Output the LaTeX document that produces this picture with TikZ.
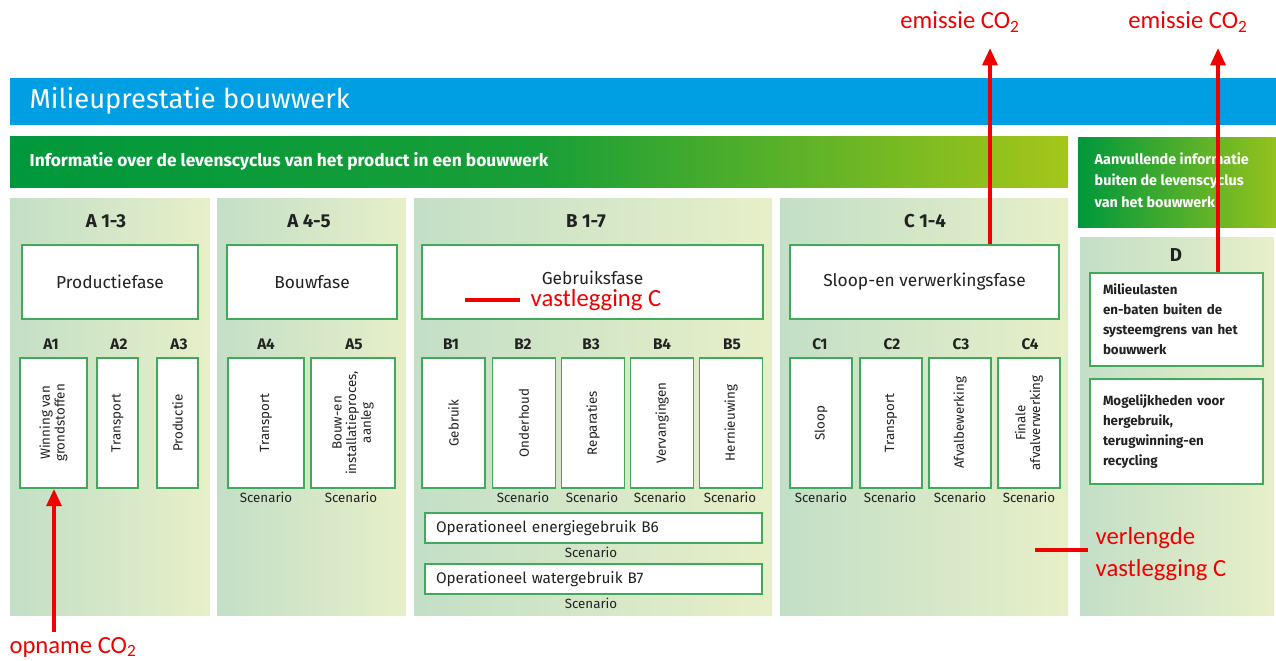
\documentclass[tikz,border=0pt]{standalone}
\usepackage{fontspec}
\setmainfont{Fira Sans}
\newfontfamily\redfont{Carlito}
\usetikzlibrary{arrows.meta}
\definecolor{barblue}{HTML}{009FE3}
\definecolor{darkgrn}{HTML}{00983C}
\definecolor{limegrn}{HTML}{A5C619}
\definecolor{panelleft}{HTML}{C3DFC7}
\definecolor{panelright}{HTML}{E7EFC8}
\definecolor{boxgreen}{HTML}{3FAA59}
\definecolor{co2red}{HTML}{F00000}
\definecolor{txtgray}{HTML}{222222}

\begin{document}
\begin{tikzpicture}[x=0.75pt,y=-0.75pt,
  panel/.style={left color=panelleft, right color=panelright},
  phasebox/.style={draw=boxgreen, line width=1.2pt, fill=white, text=txtgray, font=\fontsize{13}{15}\selectfont},
  modbox/.style={draw=boxgreen, line width=1.2pt, fill=white, minimum height=97.5pt},
  modtext/.style={rotate=90, align=center, text=txtgray, font=\fontsize{10}{11}\selectfont},
  modlabel/.style={text=txtgray, font=\bfseries\fontsize{11.5}{13}\selectfont},
  header/.style={text=txtgray, font=\bfseries\fontsize{14}{16}\selectfont},
  scen/.style={text=txtgray, font=\fontsize{10}{11}\selectfont},
  dtext/.style={draw=boxgreen, line width=1.2pt, fill=white, text=txtgray, align=left, inner xsep=9.75pt,
    text width=110.25pt, font=\bfseries\fontsize{10}{15}\selectfont},
  co2arrow/.style={draw=co2red, line width=3pt, -{Triangle[width=11pt,length=13pt]}},
  co2line/.style={draw=co2red, line width=3pt},
  co2text/.style={text=co2red, font=\redfont\fontsize{18.5}{24}\selectfont}
]
\useasboundingbox (0,0) rectangle (1276,660);

% bars
\fill [barblue] (10,78) rectangle (1276,125);
\node [anchor=west, text=white, font=\fontsize{20.5}{23}\selectfont] (title) at (25,101) {Milieuprestatie bouwwerk};
\shade [left color=darkgrn, right color=limegrn, middle color=darkgrn!85!limegrn] (10,136) rectangle (1068,187);
\node [anchor=west, text=white, font=\bfseries\fontsize{13}{15}\selectfont] (info) at (25,161) {Informatie over de levenscyclus van het product in een bouwwerk};
\shade [left color=darkgrn, right color=limegrn!90!darkgrn] (1078,137) rectangle (1276,227);
\node [anchor=west, text=white, align=left, font=\bfseries\fontsize{10.8}{16}\selectfont] (extra) at (1090,180) {Aanvullende informatie\\buiten de levenscyclus\\van het bouwwerk};

% panels
\shade [panel] (10,198) rectangle (210,615);
\shade [panel] (217,198) rectangle (406,615);
\shade [panel] (414,198) rectangle (772,615);
\shade [panel] (780,198) rectangle (1068,615);
\shade [panel] (1080,237) rectangle (1274,615);

\node [header] (ha) at (106,221) {A 1-3};
\node [header] (hab) at (309,221) {A 4-5};
\node [header] (hb) at (586,221) {B 1-7};
\node [header] (hc) at (925,221) {C 1-4};
\node [header] (hd) at (1176,255) {D};

% phases
\node [phasebox, minimum width=132pt, minimum height=55.5pt] (prod) at (110,282) {Productiefase};
\node [phasebox, minimum width=127.5pt, minimum height=55.5pt] (bouw) at (312,282) {Bouwfase};
\node [phasebox, minimum width=255.75pt, minimum height=55.5pt, text depth=6pt] (gebr) at (592.5,282) {Gebruiksfase};
\node [phasebox, minimum width=201.75pt, minimum height=55.5pt] (sloop) at (924.5,282) {Sloop-en verwerkingsfase};

% modules A
\node [modbox, minimum width=50.25pt] (a1) at (53.5,423) {};
\node [modbox, minimum width=30.75pt] (a2) at (117.5,423) {};
\node [modbox, minimum width=30.75pt] (a3) at (177.5,423) {};
\node [modbox, minimum width=57pt] (a4) at (266,423) {};
\node [modbox, minimum width=63pt] (a5) at (353,423) {};
\node [modtext] at (a1) {Winning van\\grondstoffen};
\node [modtext] at (a2) {Transport};
\node [modtext] at (a3) {Productie};
\node [modtext] at (a4) {Transport};
\node [modtext] at (a5) {Bouw-en\\installatieproces,\\aanleg};
\node [modlabel] at (51,344) {A1};
\node [modlabel] at (119,344) {A2};
\node [modlabel] at (179,344) {A3};
\node [modlabel] at (266,344) {A4};
\node [modlabel] at (354,344) {A5};
\node [scen] at (266,497) {Scenario};
\node [scen] at (351,497) {Scenario};

% modules B
\node [modbox, minimum width=47.25pt] (b1) at (453.5,423) {};
\node [modbox, minimum width=47.25pt] (b2) at (524,423) {};
\node [modbox, minimum width=47.25pt] (b3) at (593,423) {};
\node [modbox, minimum width=47.25pt] (b4) at (662,423) {};
\node [modbox, minimum width=47.25pt] (b5) at (731,423) {};
\node [modtext] at (b1) {Gebruik};
\node [modtext] at (b2) {Onderhoud};
\node [modtext] at (b3) {Reparaties};
\node [modtext] at (b4) {Vervangingen};
\node [modtext] at (b5) {Hernieuwing};
\node [modlabel] at (451,344) {B1};
\node [modlabel] at (523,344) {B2};
\node [modlabel] at (591,344) {B3};
\node [modlabel] at (662,344) {B4};
\node [modlabel] at (732,344) {B5};
\node [scen] at (523,497) {Scenario};
\node [scen] at (592,497) {Scenario};
\node [scen] at (660,497) {Scenario};
\node [scen] at (730,497) {Scenario};
\node [phasebox, minimum height=22.5pt, text width=236.25pt, inner xsep=8.25pt, align=left, font=\fontsize{11.5}{13}\selectfont] (b6) at (593.5,528) {Operationeel energiegebruik B6};
\node [scen] at (591,552) {Scenario};
\node [phasebox, minimum height=22.5pt, text width=236.25pt, inner xsep=8.25pt, align=left, font=\fontsize{11.5}{13}\selectfont] (b7) at (593.5,579) {Operationeel watergebruik B7};
\node [scen] at (591,603) {Scenario};

% modules C
\node [modbox, minimum width=46.5pt] (c1) at (821,423) {};
\node [modbox, minimum width=46.5pt] (c2) at (891,423) {};
\node [modbox, minimum width=46.5pt] (c3) at (960,423) {};
\node [modbox, minimum width=46.5pt] (c4) at (1029,423) {};
\node [modtext] at (c1) {Sloop};
\node [modtext] at (c2) {Transport};
\node [modtext] at (c3) {Afvalbewerking};
\node [modtext] at (c4) {Finale\\afvalverwerking};
\node [modlabel] at (820,344) {C1};
\node [modlabel] at (892,344) {C2};
\node [modlabel] at (961,344) {C3};
\node [modlabel] at (1030,344) {C4};
\node [scen] at (821,497) {Scenario};
\node [scen] at (890,497) {Scenario};
\node [scen] at (960,497) {Scenario};
\node [scen] at (1029,497) {Scenario};

% module D
\node [dtext, minimum height=69.75pt] (d1) at (1176.5,319.5) {Milieulasten\\en-baten buiten de\\systeemgrens van het\\bouwwerk};
\node [dtext, minimum height=78.75pt] (d2) at (1176.5,431.5) {Mogelijkheden voor\\hergebruik,\\terugwinning-en\\recycling};

% CO2
\coordinate (opn) at (54,632);
\draw [co2arrow] (opn) -- (a1.south -| opn);
\node [co2text] (opnlbl) at (73,647) {opname CO\textsubscript{2}};
\coordinate (em1) at (990,48);
\draw [co2arrow] (sloop.north -| em1) -- (em1);
\node [co2text] (em1lbl) at (960,22) {emissie CO\textsubscript{2}};
\coordinate (em2) at (1218,48);
\draw [co2arrow] (d1.north -| em2) -- (em2);
\node [co2text] (em2lbl) at (1188,22) {emissie CO\textsubscript{2}};
\node [co2text, anchor=west] (vast) at (526,300) {vastlegging C};
\coordinate (vastl) at (465,300);
\draw [co2line] (vastl) -- ++(55,0);
\node [co2text, anchor=west, align=left] (verl) at (1091,554) {verlengde\\vastlegging C};
\coordinate (verll) at (1035,550);
\draw [co2line] (verll) -- ++(53,0);
\end{tikzpicture}
\end{document}
